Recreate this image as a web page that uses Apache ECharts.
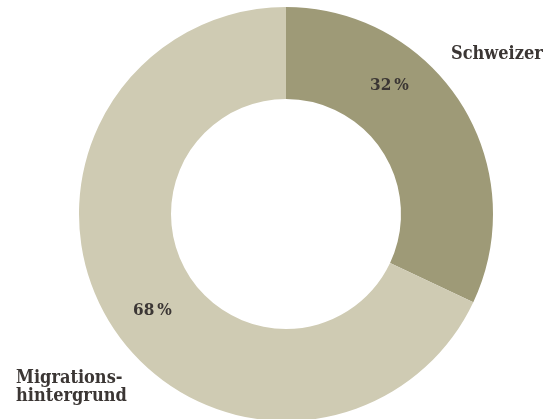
<!DOCTYPE html>
<html lang="de">
<head>
<meta charset="UTF-8">
<title>Schweizer / Migrationshintergrund</title>
<script src="https://cdn.jsdelivr.net/npm/echarts@6/dist/echarts.min.js"></script>
<style>
  html, body { margin: 0; padding: 0; background: #fff; }
  #chart { width: 553px; height: 419px; }
</style>
</head>
<body>
<div id="chart"></div>
<script>
var names = ['Schweizer', 'Migrations-\nhintergrund'];
var values = [32, 68];
var colors = ['#9e9a77', '#cfcbb3'];

var font = '"DejaVu Serif Condensed", "DejaVu Serif", serif';
var textColor = '#3b3634';

function label(text, x, y, size, extra) {
    var style = { text: text, font: 'bold ' + size + 'px ' + font, fill: textColor };
    for (var k in extra) style[k] = extra[k];
    return { type: 'text', z: 100, left: x, top: y, style: style };
}

var myChart = echarts.init(document.getElementById('chart'));
var option = {
    animation: false,
    graphic: [
        label(names[0], 451, 45, 18),
        label(values[0] + '\u2009%', 370, 77, 17),
        label(values[1] + '\u2009%', 133, 302, 17),
        label(names[1], 16, 369, 18, { lineHeight: 18 })
    ],
    series: [{
        type: 'pie',
        center: [286, 214],
        radius: [115, 207],
        startAngle: 90,
        clockwise: true,
        label: { show: false },
        labelLine: { show: false },
        emphasis: { disabled: true },
        data: names.map(function (n, i) {
            return { name: n, value: values[i], itemStyle: { color: colors[i] } };
        })
    }]
};
myChart.setOption(option);
</script>
</body>
</html>
